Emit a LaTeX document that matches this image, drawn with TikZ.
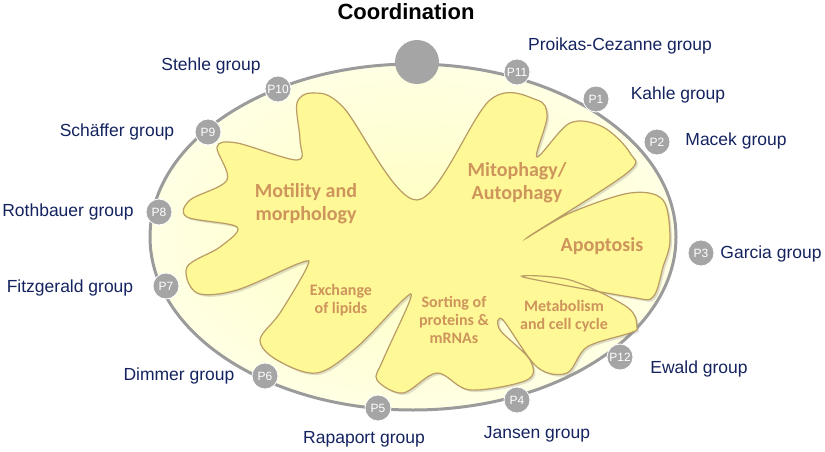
\documentclass[tikz,border=0pt]{standalone}
\usepackage{fontspec}
\setmainfont{Liberation Sans}
\newfontfamily\topicfont{Carlito}
\usepackage{tikz}
\usetikzlibrary{shapes,positioning,shadows,calc}
\definecolor{navy}{RGB}{20,35,95}
\definecolor{pgray}{RGB}{165,165,165}
\definecolor{rimgray}{RGB}{155,155,155}
\definecolor{tan}{RGB}{205,148,92}
\definecolor{blobfill}{RGB}{255,248,150}
\definecolor{blobedge}{RGB}{185,155,100}

\begin{document}
\begin{tikzpicture}[
    x=1pt, y=-1pt,
    pbox/.style={circle, fill=pgray, draw=white, line width=0.8pt, minimum size=26pt, inner sep=0pt, text=white, font=\fontsize{12}{14}\selectfont},
    grouplabel/.style={text=navy, font=\fontsize{17.5}{20}\selectfont},
    topic/.style={text=tan, align=center, font=\topicfont\bfseries\fontsize{20}{23}\selectfont},
    topicsmall/.style={text=tan, align=center, font=\topicfont\bfseries\fontsize{16}{18}\selectfont}
]
    \useasboundingbox (0,0) rectangle (825,452);
    % outer membrane
    \shade[inner color={rgb,255:red,255;green,255;blue,190}, outer color={rgb,255:red,255;green,255;blue,228}]
        (413,237) ellipse [x radius=263, y radius=173];
    \draw[rimgray, line width=3pt] (413,237) ellipse [x radius=263, y radius=173];
    % inner membrane
    \draw[blobedge, line width=1.2pt, fill=blobfill, drop shadow={opacity=0.25, shadow xshift=2pt, shadow yshift=-2pt}]
        plot[smooth cycle, tension=0.55] coordinates {
        (313,93) (343,107) (417,200) (490,100) (537,100) (547,117) (537,157)
        (570,123) (603,127) (630,153) (627,173) (528,237) (570,213) (630,193)
        (663,200) (670,240) (663,267) (653,297) (630,297) (523,277) (570,280)
        (627,307) (637,327) (630,333) (587,347) (567,373) (537,367) (503,320)
        (500,330) (530,360) (527,380) (470,390) (437,373) (403,393) (377,380)
        (383,360) (410,300) (403,300) (357,347) (317,373) (277,360) (260,340)
        (280,313) (307,267) (300,263) (237,290) (197,293) (187,267) (220,247)
        (237,227) (187,217) (190,200) (227,180) (217,147) (237,143) (297,160)
        (300,140) (297,103)};

    \node[circle, fill=pgray, minimum size=44pt] (coord) at (417,62) {};
    \node[font=\bfseries\fontsize{22}{26}\selectfont] (ctitle) at (406,12) {Coordination};

    \node[topic] (motility) at (306,204) {Motility and\\morphology};
    \node[topic] (mito) at (517,183) {Mitophagy/\\Autophagy};
    \node[topic] (apop) at (602,246) {Apoptosis};
    \node[topicsmall] (lipids) at (341,300) {Exchange\\of lipids};
    \node[topicsmall] (sorting) at (454,320) {Sorting of\\proteins \&\\mRNAs};
    \node[topicsmall] (metab) at (564,316) {Metabolism\\and cell cycle};

    \node[pbox] (p11) at (517,72) {P11};
    \node[pbox] (p1) at (596,99) {P1};
    \node[pbox] (p2) at (657,142) {P2};
    \node[pbox] (p3) at (701,253) {P3};
    \node[pbox] (p12) at (620,357) {P12};
    \node[pbox] (p4) at (517,400) {P4};
    \node[pbox] (p5) at (378,408) {P5};
    \node[pbox] (p6) at (265,376) {P6};
    \node[pbox] (p7) at (166,286) {P7};
    \node[pbox] (p8) at (159,212) {P8};
    \node[pbox] (p9) at (208,132) {P9};
    \node[pbox] (p10) at (278,89) {P10};

    \node[grouplabel] (proikas) at (620,46) {Proikas-Cezanne group};
    \node[grouplabel] (kahle) at (678,95) {Kahle group};
    \node[grouplabel] (macek) at (736,141) {Macek group};
    \node[grouplabel] (garcia) at (771,254) {Garcia group};
    \node[grouplabel] (ewald) at (699,369) {Ewald group};
    \node[grouplabel] (jansen) at (537,434) {Jansen group};
    \node[grouplabel] (rapaport) at (364,439) {Rapaport group};
    \node[grouplabel] (dimmer) at (179,376) {Dimmer group};
    \node[grouplabel] (fitzgerald) at (70,288) {Fitzgerald group};
    \node[grouplabel] (rothbauer) at (68,212) {Rothbauer group};
    \node[grouplabel] (schaeffer) at (117,132) {Schäffer group};
    \node[grouplabel] (stehle) at (211,66) {Stehle group};
\end{tikzpicture}
\end{document}
